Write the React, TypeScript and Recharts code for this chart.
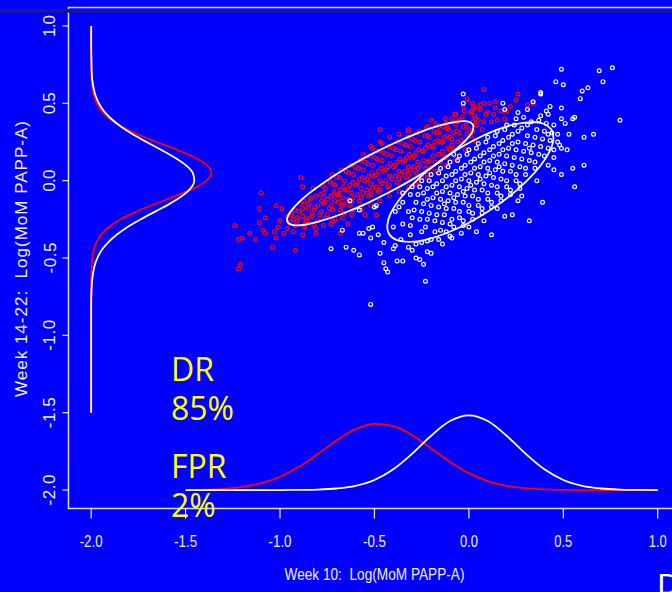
import React from 'react';
import { ReferenceArea, Scatter, ScatterChart, XAxis, YAxis } from 'recharts';

// axis ticks (same for both axes)
const xTicks = [-2, -1.5, -1, -0.5, 0, 0.5, 1];
const yTicks = [-2, -1.5, -1, -0.5, 0, 0.5, 1];

// affected pregnancies (red)
const redPoints: number[][] = [
  [-1.24, -0.29], [-1.22, -0.38], [-1.2, -0.37], [-1.22, -0.57], [-1.21, -0.54], [-1.16, -0.34],
  [-1.13, -0.38], [-1.11, -0.18], [-1.1, -0.08], [-1.11, -0.27], [-1.09, -0.32], [-1.08, -0.34],
  [-1.08, -0.24], [-1.03, -0.33], [-1.04, -0.43], [-1.02, -0.37], [-1.01, -0.3], [-1.0, -0.26],
  [-1.02, -0.16], [-0.99, -0.18], [-0.98, -0.34], [-0.92, -0.45], [-0.96, -0.23], [-0.94, -0.21],
  [-0.89, 0.02], [-0.88, -0.04], [-0.88, -0.35], [-0.81, -0.34], [-0.81, -0.31], [-0.73, -0.28],
  [-0.68, -0.34], [-0.64, -0.28], [-0.55, -0.22], [-0.57, -0.17], [-0.49, -0.22],
  [-0.95, -0.27], [-0.94, -0.22], [-0.96, -0.31], [-0.93, -0.25],
  [-0.9, -0.2], [-0.91, -0.26], [-0.89, -0.15], [-0.88, -0.23], [-0.92, -0.29],
  [-0.85, -0.18], [-0.86, -0.24], [-0.84, -0.12], [-0.83, -0.21], [-0.87, -0.28], [-0.85, -0.15],
  [-0.8, -0.16], [-0.81, -0.1], [-0.79, -0.22], [-0.78, -0.13], [-0.82, -0.19], [-0.8, -0.26], [-0.77, -0.08],
  [-0.75, -0.12], [-0.76, -0.05], [-0.74, -0.18], [-0.73, -0.1], [-0.77, -0.15], [-0.75, -0.22], [-0.72, -0.02],
  [-0.7, -0.09], [-0.71, -0.03], [-0.69, -0.14], [-0.68, -0.06], [-0.72, -0.19], [-0.7, 0.02], [-0.67, -0.11], [-0.71, -0.25],
  [-0.65, -0.06], [-0.66, 0.0], [-0.64, -0.12], [-0.63, -0.03], [-0.67, -0.16], [-0.65, 0.06], [-0.62, -0.08], [-0.66, -0.21],
  [-0.6, -0.03], [-0.61, 0.04], [-0.59, -0.09], [-0.58, 0.01], [-0.62, -0.14], [-0.6, 0.09], [-0.57, -0.05], [-0.61, -0.19],
  [-0.55, 0.0], [-0.56, 0.07], [-0.54, -0.06], [-0.53, 0.03], [-0.57, -0.11], [-0.55, 0.12], [-0.52, -0.02], [-0.56, 0.17],
  [-0.5, 0.03], [-0.51, 0.1], [-0.49, -0.04], [-0.48, 0.06], [-0.52, -0.09], [-0.5, 0.15], [-0.47, 0.0], [-0.51, 0.21],
  [-0.45, 0.06], [-0.46, 0.13], [-0.44, 0.0], [-0.43, 0.09], [-0.47, -0.06], [-0.45, 0.18], [-0.42, 0.03], [-0.46, 0.24],
  [-0.4, 0.09], [-0.41, 0.16], [-0.39, 0.03], [-0.38, 0.12], [-0.42, -0.03], [-0.4, 0.21], [-0.37, 0.06],
  [-0.35, 0.12], [-0.36, 0.19], [-0.34, 0.06], [-0.33, 0.15], [-0.37, 0.01], [-0.35, 0.24], [-0.32, 0.09],
  [-0.3, 0.15], [-0.31, 0.22], [-0.29, 0.09], [-0.28, 0.18], [-0.32, 0.04], [-0.3, 0.27], [-0.27, 0.12],
  [-0.25, 0.19], [-0.26, 0.25], [-0.24, 0.13], [-0.23, 0.21], [-0.27, 0.08], [-0.22, 0.29],
  [-0.2, 0.22], [-0.21, 0.28], [-0.19, 0.16], [-0.18, 0.25], [-0.22, 0.12], [-0.17, 0.31],
  [-0.15, 0.25], [-0.16, 0.31], [-0.14, 0.19], [-0.13, 0.28], [-0.12, 0.34],
  [-0.1, 0.28], [-0.11, 0.33], [-0.09, 0.23], [-0.08, 0.31], [-0.07, 0.36],
  [-0.05, 0.31], [-0.04, 0.26], [-0.03, 0.35], [-0.06, 0.38],
  [0.0, 0.33], [0.02, 0.38], [0.01, 0.29], [0.04, 0.36], [0.03, 0.42],
  [-0.25, 0.02], [-0.22, 0.04], [-0.2, 0.08], [-0.15, 0.12], [-0.12, 0.15], [-0.28, -0.02], [-0.1, 0.2],
  [-0.47, 0.33], [-0.32, 0.32], [-0.2, 0.39], [-0.16, 0.35], [-0.12, 0.37], [-0.11, 0.34], [-0.07, 0.43],
  [-0.03, 0.48], [-0.01, 0.53], [0.02, 0.5], [0.03, 0.47], [0.06, 0.49], [0.08, 0.5], [0.08, 0.59],
  [0.11, 0.5], [0.14, 0.51], [0.17, 0.45], [0.25, 0.52], [0.26, 0.56], [0.31, 0.49], [0.34, 0.5],
  [0.05, 0.39], [0.1, 0.44], [0.01, 0.44], [-0.05, 0.39], [-0.09, 0.4], [-0.22, 0.35], [-0.26, 0.32],
  [0.19, 0.4], [0.15, 0.39],
  [-0.93, -0.33], [-0.92, -0.19], [-0.91, -0.24],
  [-0.87, -0.3], [-0.88, -0.18], [-0.86, -0.26], [-0.875, -0.13],
  [-0.82, -0.29], [-0.83, -0.23], [-0.815, -0.17], [-0.835, -0.11], [-0.825, -0.05],
  [-0.77, -0.29], [-0.78, -0.2], [-0.765, -0.14], [-0.785, -0.09], [-0.775, -0.03], [-0.76, -0.24],
  [-0.72, -0.26], [-0.73, -0.16], [-0.715, -0.07], [-0.735, -0.01], [-0.725, 0.04], [-0.71, -0.13],
  [-0.67, -0.24], [-0.68, -0.19], [-0.665, -0.04], [-0.685, 0.02], [-0.675, 0.07], [-0.66, -0.15], [-0.69, -0.09],
  [-0.62, -0.22], [-0.63, -0.16], [-0.615, -0.01], [-0.635, 0.05], [-0.625, 0.1], [-0.61, -0.11], [-0.64, -0.06],
  [-0.57, -0.19], [-0.58, -0.13], [-0.565, 0.02], [-0.585, 0.08], [-0.575, 0.13], [-0.56, -0.08], [-0.59, -0.02],
  [-0.52, -0.16], [-0.53, -0.1], [-0.515, 0.05], [-0.535, 0.11], [-0.525, 0.16], [-0.51, -0.05], [-0.54, 0.01], [-0.52, 0.22],
  [-0.47, -0.13], [-0.48, -0.07], [-0.465, 0.08], [-0.485, 0.14], [-0.475, 0.19], [-0.46, -0.02], [-0.49, 0.04], [-0.47, 0.25],
  [-0.42, -0.1], [-0.43, -0.04], [-0.415, 0.11], [-0.435, 0.17], [-0.425, 0.22], [-0.41, 0.01], [-0.44, 0.07], [-0.42, 0.28],
  [-0.37, -0.07], [-0.38, -0.01], [-0.365, 0.14], [-0.385, 0.2], [-0.375, 0.25], [-0.36, 0.04], [-0.39, 0.1], [-0.37, 0.3],
  [-0.32, -0.04], [-0.33, 0.02], [-0.315, 0.17], [-0.335, 0.23], [-0.325, 0.28], [-0.31, 0.07], [-0.34, 0.13], [-0.32, 0.33],
  [-0.27, -0.01], [-0.28, 0.05], [-0.265, 0.2], [-0.285, 0.26], [-0.275, 0.31], [-0.26, 0.1], [-0.29, 0.16],
  [-0.22, 0.02], [-0.23, 0.08], [-0.215, 0.23], [-0.235, 0.29], [-0.225, 0.34], [-0.21, 0.13], [-0.24, 0.19],
  [-0.17, 0.06], [-0.18, 0.12], [-0.165, 0.26], [-0.185, 0.32], [-0.175, 0.37], [-0.16, 0.17], [-0.19, 0.22],
  [-0.12, 0.1], [-0.13, 0.16], [-0.115, 0.29], [-0.135, 0.35], [-0.125, 0.4], [-0.11, 0.21], [-0.14, 0.25],
  [-0.07, 0.14], [-0.08, 0.2], [-0.065, 0.32], [-0.085, 0.38], [-0.075, 0.43], [-0.06, 0.25], [-0.09, 0.27],
  [-0.02, 0.2], [-0.03, 0.24], [-0.015, 0.36], [-0.035, 0.41], [-0.025, 0.45], [-0.01, 0.3],
  [0.03, 0.26], [0.02, 0.32], [0.035, 0.4], [0.015, 0.45], [0.025, 0.48],
  [0.07, 0.33], [0.08, 0.38], [0.09, 0.43], [0.06, 0.46],
  [0.12, 0.38], [0.13, 0.43], [0.14, 0.47], [0.2, 0.45], [0.22, 0.48]
];

// unaffected pregnancies (white)
const whitePoints: number[][] = [
  [0.49, 0.72], [0.69, 0.71], [0.76, 0.73], [0.71, 0.64], [0.46, 0.64], [0.5, 0.62], [0.63, 0.6],
  [0.6, 0.58], [0.59, 0.53], [0.38, 0.56], [0.8, 0.39], [0.66, 0.3], [0.61, 0.28], [0.56, 0.41],
  [0.55, 0.4], [0.49, 0.4], [0.51, 0.37], [0.49, 0.21], [0.48, 0.23], [0.55, 0.08], [0.61, 0.1],
  [0.49, 0.04], [0.45, 0.07], [0.56, -0.04], [0.39, -0.14], [0.32, -0.26], [0.26, -0.13], [0.23, -0.22],
  [0.19, -0.23], [0.12, -0.35], [0.04, -0.33], [-0.04, -0.34], [-0.09, -0.37], [-0.14, -0.41],
  [-0.2, -0.47], [-0.22, -0.46], [-0.26, -0.51], [-0.28, -0.5], [-0.24, -0.54], [-0.3, -0.45],
  [-0.35, -0.52], [-0.38, -0.52], [-0.44, -0.57], [-0.43, -0.59], [-0.45, -0.53], [-0.47, -0.47],
  [-0.4, -0.44], [-0.39, -0.42], [-0.45, -0.4], [-0.48, -0.35], [-0.52, -0.37], [-0.56, -0.34],
  [-0.58, -0.34], [-0.58, -0.48], [-0.61, -0.45], [-0.65, -0.43], [-0.73, -0.44], [-0.67, -0.32],
  [-0.51, -0.3], [-0.53, -0.31], [-0.5, -0.17], [-0.49, -0.16], [-0.63, -0.13], [-0.58, -0.19],
  [-0.23, -0.65], [-0.52, -0.8], [-0.03, 0.56], [-0.03, 0.5], [0.18, 0.5], [0.19, 0.46], [0.26, 0.44],
  [0.38, 0.57], [0.31, 0.46], [0.41, 0.45], [0.34, 0.51], [0.43, 0.48], [0.49, 0.47], [0.42, 0.3],
  [-0.35, -0.28], [-0.31, -0.35], [-0.39, -0.2], [-0.28, -0.41],
  [-0.3, -0.24], [-0.25, -0.33], [-0.35, -0.14], [-0.22, -0.39], [-0.32, -0.2],
  [-0.25, -0.2], [-0.22, -0.25], [-0.31, -0.09], [-0.18, -0.33], [-0.28, -0.14], [-0.16, -0.38],
  [-0.2, -0.16], [-0.17, -0.22], [-0.24, -0.08], [-0.14, -0.27], [-0.26, -0.04], [-0.22, -0.12], [-0.12, -0.33],
  [-0.15, -0.12], [-0.12, -0.18], [-0.19, -0.04], [-0.09, -0.25], [-0.21, 0.0], [-0.17, -0.08], [-0.08, -0.3], [-0.13, -0.15],
  [-0.1, -0.08], [-0.07, -0.14], [-0.14, 0.0], [-0.05, -0.2], [-0.16, 0.05], [-0.12, -0.04], [-0.03, -0.26], [-0.08, -0.11],
  [-0.05, -0.04], [-0.02, -0.1], [-0.09, 0.04], [0.0, -0.16], [-0.11, 0.09], [-0.07, 0.0], [0.02, -0.21], [-0.03, -0.07],
  [0.0, 0.0], [0.03, -0.06], [-0.04, 0.08], [0.05, -0.12], [-0.06, 0.13], [-0.02, 0.04], [0.07, -0.18], [0.01, -0.03], [-0.08, 0.17],
  [0.05, 0.04], [0.08, -0.02], [0.01, 0.12], [0.1, -0.08], [-0.01, 0.17], [0.03, 0.08], [0.12, -0.14], [0.06, 0.01],
  [0.1, 0.08], [0.13, 0.02], [0.06, 0.16], [0.15, -0.04], [0.04, 0.21], [0.08, 0.12], [0.17, -0.1], [0.11, 0.05],
  [0.15, 0.12], [0.18, 0.06], [0.11, 0.2], [0.2, 0.0], [0.09, 0.25], [0.13, 0.16], [0.22, -0.06], [0.16, 0.09],
  [0.2, 0.16], [0.23, 0.1], [0.16, 0.24], [0.25, 0.04], [0.14, 0.29], [0.18, 0.2], [0.27, -0.02],
  [0.25, 0.2], [0.28, 0.14], [0.21, 0.28], [0.3, 0.08], [0.19, 0.33], [0.23, 0.24],
  [0.3, 0.24], [0.33, 0.18], [0.26, 0.32], [0.35, 0.12], [0.24, 0.36], [0.32, 0.21],
  [0.35, 0.28], [0.38, 0.22], [0.31, 0.36], [0.4, 0.16], [0.29, 0.41],
  [0.4, 0.32], [0.43, 0.26], [0.37, 0.39], [0.45, 0.2],
  [0.45, 0.36], [0.47, 0.3], [0.42, 0.43],
  [-0.37, -0.17], [-0.31, -0.29], [-0.25, -0.4],
  [-0.35, -0.08], [-0.29, -0.19], [-0.26, -0.25], [-0.23, -0.3],
  [-0.3, -0.04], [-0.27, -0.09], [-0.24, -0.15], [-0.21, -0.21], [-0.18, -0.26], [-0.15, -0.32],
  [-0.25, 0.0], [-0.22, -0.05], [-0.19, -0.11], [-0.16, -0.17], [-0.13, -0.22], [-0.1, -0.28],
  [-0.2, 0.04], [-0.17, -0.02], [-0.14, -0.07], [-0.11, -0.13], [-0.08, -0.18], [-0.05, -0.24], [-0.03, -0.29],
  [-0.15, 0.08], [-0.12, 0.03], [-0.09, -0.03], [-0.06, -0.09], [-0.03, -0.14], [0.0, -0.2], [0.02, -0.25],
  [-0.1, 0.12], [-0.07, 0.06], [-0.04, 0.01], [-0.01, -0.05], [0.02, -0.1], [0.05, -0.16], [0.07, -0.21],
  [-0.05, 0.16], [-0.02, 0.1], [0.01, 0.05], [0.04, -0.01], [0.07, -0.06], [0.1, -0.12], [0.12, -0.17],
  [0.0, 0.2], [0.03, 0.14], [0.06, 0.09], [0.09, 0.03], [0.12, -0.03], [0.15, -0.08], [0.17, -0.13],
  [0.05, 0.24], [0.08, 0.18], [0.11, 0.13], [0.14, 0.07], [0.17, 0.01], [0.2, -0.04], [0.22, -0.09],
  [0.1, 0.28], [0.13, 0.22], [0.16, 0.17], [0.19, 0.11], [0.22, 0.06], [0.25, 0.0], [0.27, -0.05],
  [0.15, 0.32], [0.18, 0.26], [0.21, 0.21], [0.24, 0.15], [0.27, 0.09], [0.3, 0.04],
  [0.2, 0.36], [0.23, 0.3], [0.26, 0.25], [0.29, 0.19], [0.32, 0.13], [0.35, 0.08],
  [0.25, 0.4], [0.28, 0.34], [0.31, 0.29], [0.34, 0.23], [0.37, 0.17],
  [0.33, 0.38], [0.36, 0.33], [0.39, 0.27], [0.42, 0.21],
  [0.38, 0.42], [0.41, 0.37], [0.44, 0.31], [0.47, 0.25],
  [-0.4, -0.3], [-0.36, -0.38], [-0.32, -0.43], [-0.2, -0.38], [-0.1, -0.36], [0.0, -0.3],
  [0.08, -0.26], [0.15, -0.18], [0.28, -0.1], [0.36, 0.0], [0.42, 0.1], [0.52, 0.2], [0.53, 0.3], [0.45, 0.15]
];

// 95% contour ellipses
const redEllipse: number[][] = [
  [0.023, 0.362], [0.02, 0.32], [-0.017, 0.26], [-0.085, 0.185], [-0.178, 0.101], [-0.292, 0.013],
  [-0.417, -0.072], [-0.546, -0.15], [-0.67, -0.214], [-0.78, -0.259], [-0.869, -0.285], [-0.93, -0.287],
  [-0.96, -0.267], [-0.957, -0.225], [-0.92, -0.164], [-0.853, -0.089], [-0.759, -0.005], [-0.646, 0.083],
  [-0.52, 0.168], [-0.391, 0.245], [-0.268, 0.309], [-0.158, 0.355], [-0.069, 0.38], [-0.007, 0.383],
  [0.023, 0.362]
];
const whiteEllipse: number[][] = [
  [0.437, 0.332], [0.448, 0.272], [0.429, 0.193], [0.381, 0.1], [0.308, 0.0], [0.215, -0.101],
  [0.107, -0.195], [-0.007, -0.277], [-0.121, -0.34], [-0.225, -0.381], [-0.314, -0.396], [-0.38, -0.385],
  [-0.421, -0.348], [-0.432, -0.288], [-0.413, -0.209], [-0.365, -0.117], [-0.292, -0.017], [-0.199, 0.084],
  [-0.091, 0.178], [0.023, 0.26], [0.137, 0.323], [0.24, 0.364], [0.329, 0.379], [0.396, 0.368],
  [0.437, 0.332]
];

// week 10 marginal densities, drawn along the bottom (baseline -2)
const redWeek10: number[][] = [
  [-1.5, -1.999], [-1.4, -1.997], [-1.3, -1.992], [-1.2, -1.98], [-1.1, -1.956], [-1.0, -1.914],
  [-0.9, -1.85], [-0.8, -1.767], [-0.7, -1.678], [-0.6, -1.606], [-0.5, -1.572], [-0.4, -1.587],
  [-0.3, -1.646], [-0.2, -1.731], [-0.1, -1.818], [0.0, -1.891], [0.1, -1.942], [0.2, -1.973],
  [0.3, -1.988], [0.4, -1.996], [0.5, -1.999], [0.6, -2.0], [0.7, -2.0], [0.8, -2.0], [0.9, -2.0], [1.0, -2.0]
];
const whiteWeek10: number[][] = [
  [-1.5, -2.0], [-1.4, -2.0], [-1.3, -2.0], [-1.2, -2.0], [-1.1, -2.0], [-1.0, -2.0],
  [-0.9, -1.999], [-0.8, -1.997], [-0.7, -1.99], [-0.6, -1.973], [-0.5, -1.935], [-0.4, -1.866],
  [-0.3, -1.765], [-0.2, -1.649], [-0.1, -1.554], [0.0, -1.517], [0.1, -1.554], [0.2, -1.649],
  [0.3, -1.765], [0.4, -1.866], [0.5, -1.935], [0.6, -1.973], [0.7, -1.99], [0.8, -1.997], [0.9, -1.999], [1.0, -2.0]
];

// week 14-22 marginal densities, drawn up the left side (baseline -2)
const redWeek14: number[][] = [
  [-2.0, -1.5], [-2.0, -1.2], [-2.0, -1.0], [-2.0, -0.8], [-2.0, -0.7], [-1.999, -0.6], [-1.998, -0.55],
  [-1.994, -0.5], [-1.987, -0.45], [-1.973, -0.4], [-1.947, -0.35], [-1.906, -0.3], [-1.844, -0.25],
  [-1.761, -0.2], [-1.661, -0.15], [-1.555, -0.1], [-1.458, -0.05], [-1.39, 0.0], [-1.364, 0.05],
  [-1.386, 0.1], [-1.452, 0.15], [-1.546, 0.2], [-1.653, 0.25], [-1.754, 0.3], [-1.838, 0.35],
  [-1.902, 0.4], [-1.945, 0.45], [-1.971, 0.5], [-1.986, 0.55], [-1.994, 0.6], [-1.997, 0.65],
  [-1.999, 0.7], [-2.0, 0.8], [-2.0, 0.9], [-2.0, 1.0]
];
const whiteWeek14: number[][] = [
  [-2.0, -1.5], [-2.0, -1.2], [-2.0, -1.0], [-2.0, -0.8], [-1.998, -0.7], [-1.99, -0.6], [-1.982, -0.55],
  [-1.967, -0.5], [-1.945, -0.45], [-1.911, -0.4], [-1.865, -0.35], [-1.807, -0.3], [-1.737, -0.25],
  [-1.661, -0.2], [-1.585, -0.15], [-1.52, -0.1], [-1.474, -0.05], [-1.454, 0.0], [-1.462, 0.05],
  [-1.499, 0.1], [-1.558, 0.15], [-1.63, 0.2], [-1.707, 0.25], [-1.78, 0.3], [-1.843, 0.35],
  [-1.894, 0.4], [-1.933, 0.45], [-1.959, 0.5], [-1.977, 0.55], [-1.987, 0.6], [-1.994, 0.65],
  [-1.997, 0.7], [-1.999, 0.8], [-2.0, 0.9], [-2.0, 1.0]
];

const BLUE = '#0000FF';
const RED = '#FF0000';
const WHITE = '#FFFFFF';
const AXIS_TEXT = '#F0F0FF';
const NARROW = "'Liberation Sans Narrow', 'Liberation Sans', Arial, sans-serif";
const DOMAIN: [number, number] = [-2.12, 1.12];

const toXY = (pts: number[][]) => pts.map(([x, y]) => ({ x, y }));

const hollowDot = (color: string) => (props: any) => (
  <circle cx={props.cx} cy={props.cy} r={1.9} fill="none" stroke={color} strokeWidth={1.2} />
);
const noDot = () => <g />;

const XTick = (props: any) => {
  const { x, payload } = props;
  const label = Number(payload.value).toFixed(1);
  return (
    <text
      x={x}
      y={547}
      textAnchor="middle"
      fill={AXIS_TEXT}
      fontSize={16}
      fontFamily={NARROW}
      textLength={label.startsWith('-') ? 23 : 18}
      lengthAdjust="spacingAndGlyphs"
    >
      {label}
    </text>
  );
};

const YTick = (props: any) => {
  const { y, payload } = props;
  const label = Number(payload.value).toFixed(1);
  const bx = 55.5;
  return (
    <text
      x={bx}
      y={y}
      transform={`rotate(-90 ${bx} ${y})`}
      textAnchor="middle"
      fill={AXIS_TEXT}
      fontSize={17}
      fontFamily={NARROW}
      textLength={label.startsWith('-') ? 31 : 22}
      lengthAdjust="spacing"
    >
      {label}
    </text>
  );
};

const curveLine = (color: string) => ({ stroke: color, strokeWidth: 1.8, fill: 'none' });

const App: React.FC = () => {
  return (
    <div
      style={{
        position: 'fixed',
        left: 0,
        top: 0,
        width: 672,
        height: 592,
        overflow: 'hidden',
        background: BLUE
      }}
    >
      <ScatterChart width={700} height={592} margin={{ top: 7.4, right: 19.6, bottom: 0, left: 0 }}>
        <XAxis
          type="number"
          dataKey="x"
          domain={DOMAIN}
          ticks={xTicks}
          interval={0}
          allowDataOverflow
          axisLine={false}
          tickLine={{ stroke: AXIS_TEXT, strokeWidth: 1.2 }}
          tickSize={10}
          tick={XTick}
          height={83.4}
        />
        <YAxis
          type="number"
          dataKey="y"
          domain={DOMAIN}
          ticks={yTicks}
          interval={0}
          allowDataOverflow
          axisLine={false}
          tickLine={{ stroke: AXIS_TEXT, strokeWidth: 1.2 }}
          tickSize={6}
          tick={YTick}
          width={68.5}
        />
        <ReferenceArea
          x1={DOMAIN[0]}
          x2={DOMAIN[1]}
          y1={DOMAIN[0]}
          y2={DOMAIN[1]}
          fill="none"
          fillOpacity={0}
          stroke="#DCDCFF"
          strokeWidth={1.5}
        />
        <Scatter data={toXY(redPoints)} shape={hollowDot(RED)} isAnimationActive={false} />
        <Scatter data={toXY(whitePoints)} shape={hollowDot(WHITE)} isAnimationActive={false} />
        <Scatter
          data={toXY(redEllipse)}
          shape={noDot}
          line={curveLine(WHITE)}
          lineJointType="natural"
          isAnimationActive={false}
        />
        <Scatter
          data={toXY(whiteEllipse)}
          shape={noDot}
          line={curveLine(WHITE)}
          lineJointType="natural"
          isAnimationActive={false}
        />
        <Scatter
          data={toXY(redWeek10)}
          shape={noDot}
          line={curveLine(RED)}
          lineJointType="monotoneX"
          isAnimationActive={false}
        />
        <Scatter
          data={toXY(whiteWeek10)}
          shape={noDot}
          line={curveLine(WHITE)}
          lineJointType="monotoneX"
          isAnimationActive={false}
        />
        <Scatter
          data={toXY(redWeek14)}
          shape={noDot}
          line={curveLine(RED)}
          lineJointType="monotoneY"
          isAnimationActive={false}
        />
        <Scatter
          data={toXY(whiteWeek14)}
          shape={noDot}
          line={curveLine(WHITE)}
          lineJointType="monotoneY"
          isAnimationActive={false}
        />
      </ScatterChart>
      <svg
        width={672}
        height={592}
        style={{ position: 'absolute', left: 0, top: 0, pointerEvents: 'none' }}
      >
        <rect x={0} y={9} width={672} height={3.7} fill="#1616A0" />
        <g fill="#FFFF00" fontSize={32} fontFamily="'Open Sans', 'Noto Sans', sans-serif">
          <text x={171} y={381}>DR</text>
          <text x={171} y={420}>85%</text>
          <text x={171} y={478}>FPR</text>
          <text x={171} y={517}>2%</text>
        </g>
        <text
          x={374.5}
          y={579.5}
          textAnchor="middle"
          fill={AXIS_TEXT}
          fontSize={16.5}
          fontFamily={NARROW}
          textLength={180}
          lengthAdjust="spacingAndGlyphs"
          style={{ whiteSpace: 'pre' }}
        >
          {'Week 10:  Log(MoM PAPP-A)'}
        </text>
        <text
          x={26.5}
          y={259}
          transform="rotate(-90 26.5 259)"
          textAnchor="middle"
          fill={AXIS_TEXT}
          fontSize={17}
          fontFamily={NARROW}
          textLength={276}
          lengthAdjust="spacing"
          style={{ whiteSpace: 'pre' }}
        >
          {'Week 14-22:  Log(MoM PAPP-A)'}
        </text>
        <text x={657.5} y={593.5} fill={WHITE} fontSize={30} fontFamily="'Liberation Sans', Arial, sans-serif">
          D
        </text>
      </svg>
    </div>
  );
};

export default App;
